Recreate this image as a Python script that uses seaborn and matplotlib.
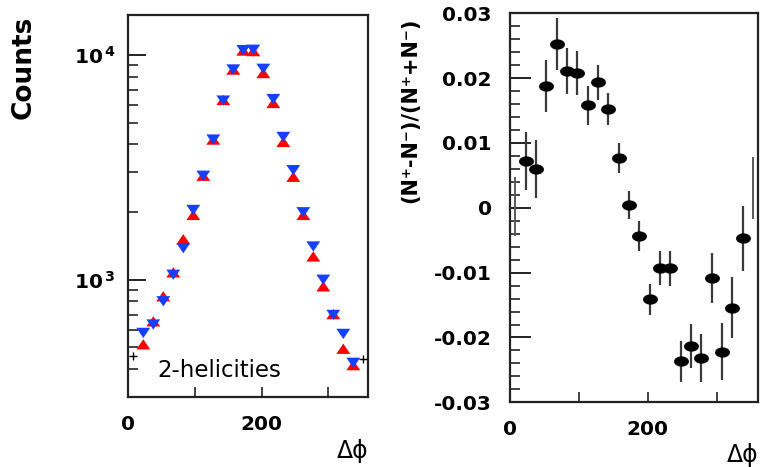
import numpy as np
import pandas as pd
import matplotlib
matplotlib.use("Agg")
import matplotlib.pyplot as plt
import seaborn as sns
from matplotlib.ticker import (FixedLocator, FixedFormatter, LogLocator,
                               MultipleLocator, NullFormatter, FuncFormatter)

# ---------------- data ----------------
dphi = [22.5, 37.5, 52.5, 67.5, 82.5, 97.5, 112.5, 127.5, 142.5, 157.5, 172.5,
        187.5, 202.5, 217.5, 232.5, 247.5, 262.5, 277.5, 292.5, 307.5, 322.5, 337.5]
counts_plus = [516, 653, 844, 1078, 1514, 1941, 2900, 4200, 6300, 8600, 10450,
               10390, 8300, 6110, 4100, 2870, 1941, 1269, 934, 703, 493, 417]
counts_minus = [580, 632, 802, 1052, 1381, 2043, 2900, 4200, 6260, 8610, 10500,
                10540, 8670, 6360, 4315, 3070, 1995, 1405, 1000, 697, 574, 427]
edge_dphi = [7.5, 352.5]
edge_counts = [460, 442]

asym = [0.0072, 0.0060, 0.0188, 0.0253, 0.0211, 0.0208, 0.0158, 0.0194, 0.0152,
        0.0077, 0.0004, -0.0044, -0.0141, -0.0093, -0.0093, -0.0237, -0.0213,
        -0.0232, -0.0108, -0.0222, -0.0154, -0.0047]
asym_err = [0.0045, 0.0045, 0.0040, 0.0040, 0.0035, 0.0034, 0.0030, 0.0027, 0.0025,
            0.0023, 0.0022, 0.0023, 0.0024, 0.0026, 0.0027, 0.0031, 0.0034, 0.0037,
            0.0039, 0.0044, 0.0047, 0.0050]
edge_asym = [0.0002, 0.0030]
edge_asym_err = [0.0045, 0.0048]

left_yticks = [1000, 10000]
left_yticklabels = [r"$\mathbf{10}^{\,\mathbf{3}}$", r"$\mathbf{10}^{\,\mathbf{4}}$"]
xticks = [0, 200]
xticklabels = ["0", "200"]
xminor = [100, 300]

# ---------------- style ----------------
sns.set_style("ticks")
plt.rcParams["font.family"] = ["DejaVu Sans"]
plt.rcParams["font.weight"] = "bold"
plt.rcParams["axes.unicode_minus"] = False
plt.rcParams["mathtext.fontset"] = "dejavusans"
plt.rcParams["text.color"] = "black"
plt.rcParams["axes.labelcolor"] = "black"
plt.rcParams["xtick.labelcolor"] = "black"
plt.rcParams["ytick.labelcolor"] = "black"

frame_col = "#222222"

df = pd.DataFrame({
    "dphi": dphi + dphi,
    "counts": counts_plus + counts_minus,
    "helicity": ["N+"] * len(dphi) + ["N-"] * len(dphi),
})

tri_up = [(-1.35, -1.0), (1.35, -1.0), (0.0, 1.0)]
tri_down = [(-1.35, 1.0), (1.35, 1.0), (0.0, -1.0)]
t = np.linspace(0, 2 * np.pi, 41)
ellipse = list(zip(1.45 * np.cos(t), np.sin(t)))

fig = plt.figure(figsize=(7.6, 4.67), dpi=100)
ax1 = fig.add_axes([0.1688, 0.1493, 0.3158, 0.818])
ax2 = fig.add_axes([0.6711, 0.1385, 0.3263, 0.833])

# ---------------- left panel ----------------
sns.scatterplot(data=df, x="dphi", y="counts", hue="helicity", style="helicity",
                palette={"N+": "#ff0000", "N-": "#1540ff"},
                markers={"N+": tri_up, "N-": tri_down},
                s=100, linewidth=0, legend=False, ax=ax1, zorder=3)
sns.scatterplot(x=edge_dphi, y=edge_counts, marker="+", s=30, color="black",
                linewidth=1.0, ax=ax1, zorder=3)
ax1.set_yscale("log")
ax1.set_xlim(0, 360)
ax1.set_ylim(300, 15000)
ax1.yaxis.set_major_locator(FixedLocator(left_yticks))
ax1.yaxis.set_major_formatter(FixedFormatter(left_yticklabels))
ax1.yaxis.set_minor_locator(LogLocator(base=10, subs=np.arange(2, 10)))
ax1.yaxis.set_minor_formatter(NullFormatter())
ax1.xaxis.set_major_locator(FixedLocator(xticks))
ax1.xaxis.set_major_formatter(FixedFormatter(xticklabels))
ax1.xaxis.set_minor_locator(FixedLocator(xminor))
ax1.tick_params(axis="y", which="major", direction="in", length=13, width=1.4,
                pad=9, labelsize=14.5, color=frame_col)
ax1.tick_params(axis="y", which="minor", direction="in", length=7, width=1.2,
                color=frame_col)
ax1.tick_params(axis="x", which="both", direction="in", length=7, width=1.2,
                pad=13, labelsize=14.5, color=frame_col)
ax1.set_xlabel("Δϕ", fontsize=17, fontweight="normal", loc="right")
ax1.xaxis.set_label_coords(1.0, -0.11)
ax1.set_ylabel("Counts", fontsize=19, fontweight="bold", loc="top")
ax1.yaxis.set_label_coords(-0.38, 1.0)
ax1.text(0.12, 0.053, "2-helicities", transform=ax1.transAxes, fontsize=16.5,
         fontweight="normal", ha="left", va="baseline")

# ---------------- right panel ----------------
ax2.errorbar(dphi, asym, yerr=asym_err, fmt="none", ecolor="#3a3a3a",
             elinewidth=1.6, capsize=0, zorder=2)
ax2.errorbar(edge_dphi, edge_asym, yerr=edge_asym_err, fmt="none",
             ecolor="#5a5a5a", elinewidth=1.4, capsize=0, zorder=2)
sns.scatterplot(x=dphi, y=asym, marker=ellipse, s=115, color="black",
                linewidth=0, ax=ax2, zorder=3)
ax2.set_xlim(0, 360)
ax2.set_ylim(-0.03, 0.03)
ax2.yaxis.set_major_locator(MultipleLocator(0.01))
ax2.yaxis.set_minor_locator(MultipleLocator(0.002))
ax2.yaxis.set_major_formatter(FuncFormatter(
    lambda v, _: "0" if abs(v) < 1e-9 else f"{v:.2f}"))
ax2.xaxis.set_major_locator(FixedLocator(xticks))
ax2.xaxis.set_major_formatter(FixedFormatter(xticklabels))
ax2.xaxis.set_minor_locator(FixedLocator(xminor))
ax2.tick_params(axis="y", which="major", direction="in", length=15, width=1.4,
                pad=13, labelsize=14.5, color=frame_col)
ax2.tick_params(axis="y", which="minor", direction="in", length=7, width=1.2,
                color=frame_col)
ax2.tick_params(axis="x", which="both", direction="in", length=7, width=1.2,
                pad=13, labelsize=14.5, color=frame_col)
ax2.set_xlabel("Δϕ", fontsize=17, fontweight="normal", loc="right")
ax2.xaxis.set_label_coords(1.0, -0.105)
ax2.set_ylabel("(N⁺-N⁻)/(N⁺+N⁻)", fontsize=15, fontweight="bold", loc="top")
ax2.yaxis.set_label_coords(-0.363, 0.99)

for ax in (ax1, ax2):
    ax.grid(False)
    for sp in ax.spines.values():
        sp.set_visible(True)
        sp.set_linewidth(1.6)
        sp.set_color(frame_col)

fig.savefig("out.png", dpi=100)
